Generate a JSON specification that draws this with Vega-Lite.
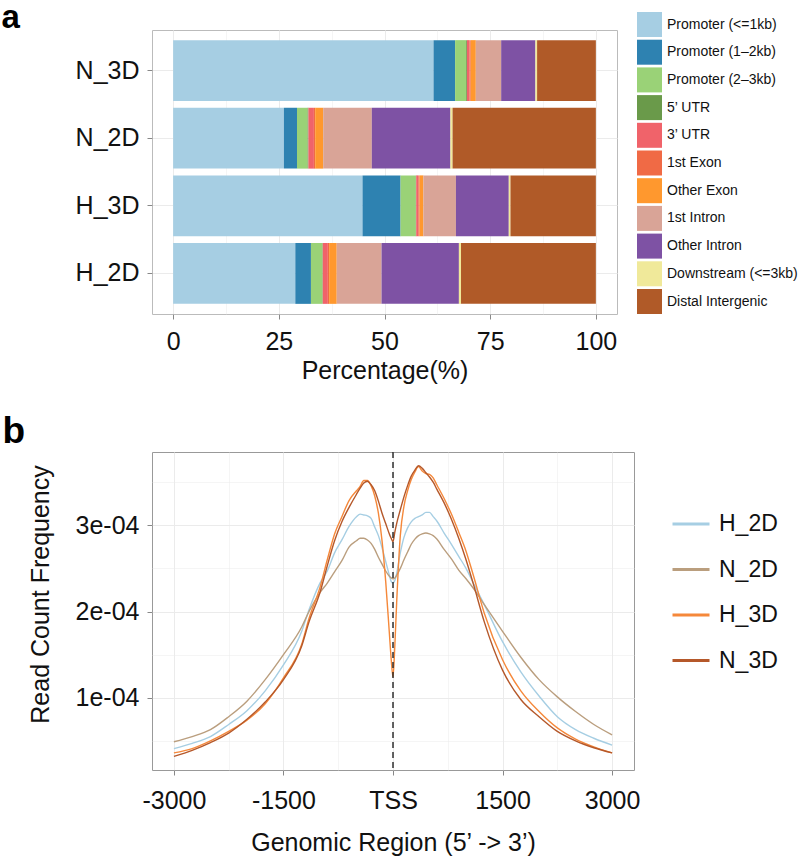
{
"$schema": "https://vega.github.io/schema/vega-lite/v6.json",
"background": "white",
"padding": {"left": 0, "top": 0, "right": 0, "bottom": 0},
"bounds": "flush",
"spacing": 138,
"resolve": {"scale": {"color": "independent"}, "legend": {"color": "independent"}},
"config": {
  "font": "Liberation Sans",
  "axis": {"labelFont": "Liberation Sans", "titleFont": "Liberation Sans", "labelColor": "#111111", "titleColor": "#111111", "titleFontWeight": "normal", "labelFontSize": 25, "titleFontSize": 25, "domain": false, "tickColor": "#888888", "tickSize": 5, "gridColor": "#EBEBEB", "labelPadding": 8},
  "legend": {"labelFont": "Liberation Sans", "labelColor": "#111111", "padding": 0}
},
"vconcat": [
{
  "width": 465, "height": 284,
  "view": {"stroke": "#BBBBBB"},
  "data": {"values": [
    {"sample":"N_3D","feature":"Promoter (<=1kb)","pct":61.6},
    {"sample":"N_3D","feature":"Promoter (1–2kb)","pct":5.1},
    {"sample":"N_3D","feature":"Promoter (2–3kb)","pct":2.6},
    {"sample":"N_3D","feature":"5’ UTR","pct":0.2},
    {"sample":"N_3D","feature":"3’ UTR","pct":0.6},
    {"sample":"N_3D","feature":"1st Exon","pct":0.3},
    {"sample":"N_3D","feature":"Other Exon","pct":1.2},
    {"sample":"N_3D","feature":"1st Intron","pct":6.0},
    {"sample":"N_3D","feature":"Other Intron","pct":8.1},
    {"sample":"N_3D","feature":"Downstream (<=3kb)","pct":0.4},
    {"sample":"N_3D","feature":"Distal Intergenic","pct":13.9},
    {"sample":"N_2D","feature":"Promoter (<=1kb)","pct":26.2},
    {"sample":"N_2D","feature":"Promoter (1–2kb)","pct":3.1},
    {"sample":"N_2D","feature":"Promoter (2–3kb)","pct":2.5},
    {"sample":"N_2D","feature":"5’ UTR","pct":0.2},
    {"sample":"N_2D","feature":"3’ UTR","pct":1.3},
    {"sample":"N_2D","feature":"1st Exon","pct":0.3},
    {"sample":"N_2D","feature":"Other Exon","pct":1.9},
    {"sample":"N_2D","feature":"1st Intron","pct":11.5},
    {"sample":"N_2D","feature":"Other Intron","pct":18.6},
    {"sample":"N_2D","feature":"Downstream (<=3kb)","pct":0.5},
    {"sample":"N_2D","feature":"Distal Intergenic","pct":33.9},
    {"sample":"H_3D","feature":"Promoter (<=1kb)","pct":44.8},
    {"sample":"H_3D","feature":"Promoter (1–2kb)","pct":9.0},
    {"sample":"H_3D","feature":"Promoter (2–3kb)","pct":3.6},
    {"sample":"H_3D","feature":"5’ UTR","pct":0.1},
    {"sample":"H_3D","feature":"3’ UTR","pct":0.5},
    {"sample":"H_3D","feature":"1st Exon","pct":0.3},
    {"sample":"H_3D","feature":"Other Exon","pct":0.9},
    {"sample":"H_3D","feature":"1st Intron","pct":7.7},
    {"sample":"H_3D","feature":"Other Intron","pct":12.5},
    {"sample":"H_3D","feature":"Downstream (<=3kb)","pct":0.4},
    {"sample":"H_3D","feature":"Distal Intergenic","pct":20.2},
    {"sample":"H_2D","feature":"Promoter (<=1kb)","pct":28.9},
    {"sample":"H_2D","feature":"Promoter (1–2kb)","pct":3.7},
    {"sample":"H_2D","feature":"Promoter (2–3kb)","pct":2.7},
    {"sample":"H_2D","feature":"5’ UTR","pct":0.1},
    {"sample":"H_2D","feature":"3’ UTR","pct":1.2},
    {"sample":"H_2D","feature":"1st Exon","pct":0.3},
    {"sample":"H_2D","feature":"Other Exon","pct":1.8},
    {"sample":"H_2D","feature":"1st Intron","pct":10.6},
    {"sample":"H_2D","feature":"Other Intron","pct":18.3},
    {"sample":"H_2D","feature":"Downstream (<=3kb)","pct":0.5},
    {"sample":"H_2D","feature":"Distal Intergenic","pct":31.9}
  ]},
  "transform": [{"calculate": "indexof(['Promoter (<=1kb)','Promoter (1–2kb)','Promoter (2–3kb)','5’ UTR','3’ UTR','1st Exon','Other Exon','1st Intron','Other Intron','Downstream (<=3kb)','Distal Intergenic'], datum.feature)", "as": "stackOrder"}],
  "mark": {"type": "bar"},
  "encoding": {
    "y": {"field": "sample", "type": "nominal", "sort": ["N_3D","N_2D","H_3D","H_2D"],
          "scale": {"paddingInner": 0.1, "paddingOuter": 0.15},
          "axis": {"title": "a", "titleAngle": 0, "titleX": -151, "titleY": -3, "titleAlign": "left", "titleBaseline": "alphabetic",
                   "titleFontSize": 33, "titleFontWeight": "bold", "titleColor": "#000000",
                   "bandPosition": 0.5, "grid": true, "gridWidth": 1}},
    "x": {"field": "pct", "type": "quantitative", "stack": "zero",
          "scale": {"domain": [-5, 105], "nice": false, "zero": false},
          "axis": {"title": "Percentage(%)", "values": [0,12.5,25,37.5,50,62.5,75,87.5,100],
                   "labelExpr": "datum.value % 25 === 0 ? datum.label : ''",
                   "tickOpacity": {"condition": {"test": "datum.value % 25 !== 0", "value": 0}, "value": 1},
                   "gridWidth": {"condition": {"test": "datum.value % 25 !== 0", "value": 0.5}, "value": 1},
                   "labelPadding": 10, "titlePadding": 4}},
    "color": {"field": "feature", "type": "nominal",
              "scale": {"domain": ["Promoter (<=1kb)","Promoter (1–2kb)","Promoter (2–3kb)","5’ UTR","3’ UTR","1st Exon","Other Exon","1st Intron","Other Intron","Downstream (<=3kb)","Distal Intergenic"],
                        "range": ["#A6CEE3","#2E82B1","#9AD277","#6A9A4A","#F0636A","#F06A45","#FF982E","#D9A497","#7E52A4","#F0E99A","#B05A28"]},
              "legend": {"title": null, "orient": "none", "legendX": 485, "legendY": -18, "symbolType": "square", "symbolSize": 625, "symbolStrokeWidth": 0, "symbolOpacity": 1, "labelFontSize": 14, "rowPadding": 2.7, "labelOffset": 5}},
    "order": {"field": "stackOrder", "type": "quantitative"}
  }
},
{
  "width": 482, "height": 318,
  "view": {"stroke": "#999999"},
  "resolve": {"axis": {"x": "independent"}},
  "layer": [
  {
    "data": {"values": [
{"sample":"H_2D","pos":-3000,"freq":0.41e-4},{"sample":"H_2D","pos":-2750,"freq":0.47e-4},{"sample":"H_2D","pos":-2500,"freq":0.55e-4},{"sample":"H_2D","pos":-2250,"freq":0.69e-4},{"sample":"H_2D","pos":-2000,"freq":0.85e-4},{"sample":"H_2D","pos":-1750,"freq":1.08e-4},{"sample":"H_2D","pos":-1500,"freq":1.38e-4},{"sample":"H_2D","pos":-1250,"freq":1.77e-4},{"sample":"H_2D","pos":-1150,"freq":2.02e-4},{"sample":"H_2D","pos":-1000,"freq":2.33e-4},{"sample":"H_2D","pos":-900,"freq":2.47e-4},{"sample":"H_2D","pos":-800,"freq":2.68e-4},{"sample":"H_2D","pos":-700,"freq":2.83e-4},{"sample":"H_2D","pos":-600,"freq":2.99e-4},{"sample":"H_2D","pos":-500,"freq":3.10e-4},{"sample":"H_2D","pos":-450,"freq":3.13e-4},{"sample":"H_2D","pos":-400,"freq":3.12e-4},{"sample":"H_2D","pos":-350,"freq":3.11e-4},{"sample":"H_2D","pos":-300,"freq":3.08e-4},{"sample":"H_2D","pos":-250,"freq":2.98e-4},{"sample":"H_2D","pos":-200,"freq":2.88e-4},{"sample":"H_2D","pos":-150,"freq":2.74e-4},{"sample":"H_2D","pos":-100,"freq":2.58e-4},{"sample":"H_2D","pos":-50,"freq":2.42e-4},{"sample":"H_2D","pos":-25,"freq":2.35e-4},{"sample":"H_2D","pos":0,"freq":2.33e-4},{"sample":"H_2D","pos":25,"freq":2.36e-4},{"sample":"H_2D","pos":50,"freq":2.44e-4},{"sample":"H_2D","pos":100,"freq":2.68e-4},{"sample":"H_2D","pos":150,"freq":2.86e-4},{"sample":"H_2D","pos":200,"freq":2.97e-4},{"sample":"H_2D","pos":250,"freq":3.04e-4},{"sample":"H_2D","pos":300,"freq":3.08e-4},{"sample":"H_2D","pos":350,"freq":3.10e-4},{"sample":"H_2D","pos":400,"freq":3.12e-4},{"sample":"H_2D","pos":450,"freq":3.15e-4},{"sample":"H_2D","pos":500,"freq":3.15e-4},{"sample":"H_2D","pos":550,"freq":3.10e-4},{"sample":"H_2D","pos":600,"freq":3.05e-4},{"sample":"H_2D","pos":700,"freq":2.91e-4},{"sample":"H_2D","pos":800,"freq":2.78e-4},{"sample":"H_2D","pos":900,"freq":2.64e-4},{"sample":"H_2D","pos":1000,"freq":2.50e-4},{"sample":"H_2D","pos":1100,"freq":2.33e-4},{"sample":"H_2D","pos":1250,"freq":2.08e-4},{"sample":"H_2D","pos":1500,"freq":1.65e-4},{"sample":"H_2D","pos":1750,"freq":1.30e-4},{"sample":"H_2D","pos":2000,"freq":1.02e-4},{"sample":"H_2D","pos":2250,"freq":0.78e-4},{"sample":"H_2D","pos":2500,"freq":0.63e-4},{"sample":"H_2D","pos":2750,"freq":0.53e-4},{"sample":"H_2D","pos":3000,"freq":0.45e-4},
{"sample":"N_2D","pos":-3000,"freq":0.49e-4},{"sample":"N_2D","pos":-2750,"freq":0.55e-4},{"sample":"N_2D","pos":-2500,"freq":0.63e-4},{"sample":"N_2D","pos":-2250,"freq":0.78e-4},{"sample":"N_2D","pos":-2000,"freq":0.96e-4},{"sample":"N_2D","pos":-1750,"freq":1.21e-4},{"sample":"N_2D","pos":-1500,"freq":1.50e-4},{"sample":"N_2D","pos":-1250,"freq":1.82e-4},{"sample":"N_2D","pos":-1150,"freq":2.00e-4},{"sample":"N_2D","pos":-1000,"freq":2.22e-4},{"sample":"N_2D","pos":-900,"freq":2.33e-4},{"sample":"N_2D","pos":-800,"freq":2.46e-4},{"sample":"N_2D","pos":-700,"freq":2.59e-4},{"sample":"N_2D","pos":-600,"freq":2.75e-4},{"sample":"N_2D","pos":-500,"freq":2.82e-4},{"sample":"N_2D","pos":-450,"freq":2.85e-4},{"sample":"N_2D","pos":-400,"freq":2.85e-4},{"sample":"N_2D","pos":-350,"freq":2.83e-4},{"sample":"N_2D","pos":-300,"freq":2.79e-4},{"sample":"N_2D","pos":-250,"freq":2.72e-4},{"sample":"N_2D","pos":-200,"freq":2.63e-4},{"sample":"N_2D","pos":-150,"freq":2.55e-4},{"sample":"N_2D","pos":-100,"freq":2.47e-4},{"sample":"N_2D","pos":-50,"freq":2.41e-4},{"sample":"N_2D","pos":-25,"freq":2.39e-4},{"sample":"N_2D","pos":0,"freq":2.38e-4},{"sample":"N_2D","pos":25,"freq":2.39e-4},{"sample":"N_2D","pos":50,"freq":2.42e-4},{"sample":"N_2D","pos":100,"freq":2.50e-4},{"sample":"N_2D","pos":150,"freq":2.60e-4},{"sample":"N_2D","pos":200,"freq":2.69e-4},{"sample":"N_2D","pos":250,"freq":2.78e-4},{"sample":"N_2D","pos":300,"freq":2.84e-4},{"sample":"N_2D","pos":350,"freq":2.88e-4},{"sample":"N_2D","pos":400,"freq":2.90e-4},{"sample":"N_2D","pos":450,"freq":2.91e-4},{"sample":"N_2D","pos":500,"freq":2.90e-4},{"sample":"N_2D","pos":550,"freq":2.88e-4},{"sample":"N_2D","pos":600,"freq":2.84e-4},{"sample":"N_2D","pos":700,"freq":2.72e-4},{"sample":"N_2D","pos":800,"freq":2.61e-4},{"sample":"N_2D","pos":900,"freq":2.48e-4},{"sample":"N_2D","pos":1000,"freq":2.38e-4},{"sample":"N_2D","pos":1100,"freq":2.27e-4},{"sample":"N_2D","pos":1250,"freq":2.08e-4},{"sample":"N_2D","pos":1500,"freq":1.77e-4},{"sample":"N_2D","pos":1750,"freq":1.47e-4},{"sample":"N_2D","pos":2000,"freq":1.21e-4},{"sample":"N_2D","pos":2250,"freq":1.01e-4},{"sample":"N_2D","pos":2500,"freq":0.84e-4},{"sample":"N_2D","pos":2750,"freq":0.69e-4},{"sample":"N_2D","pos":3000,"freq":0.57e-4},
{"sample":"H_3D","pos":-3000,"freq":0.36e-4},{"sample":"H_3D","pos":-2750,"freq":0.41e-4},{"sample":"H_3D","pos":-2500,"freq":0.50e-4},{"sample":"H_3D","pos":-2250,"freq":0.61e-4},{"sample":"H_3D","pos":-2000,"freq":0.74e-4},{"sample":"H_3D","pos":-1750,"freq":0.93e-4},{"sample":"H_3D","pos":-1500,"freq":1.23e-4},{"sample":"H_3D","pos":-1250,"freq":1.62e-4},{"sample":"H_3D","pos":-1150,"freq":1.92e-4},{"sample":"H_3D","pos":-1000,"freq":2.28e-4},{"sample":"H_3D","pos":-900,"freq":2.60e-4},{"sample":"H_3D","pos":-800,"freq":2.90e-4},{"sample":"H_3D","pos":-700,"freq":3.10e-4},{"sample":"H_3D","pos":-600,"freq":3.29e-4},{"sample":"H_3D","pos":-500,"freq":3.40e-4},{"sample":"H_3D","pos":-450,"freq":3.45e-4},{"sample":"H_3D","pos":-400,"freq":3.52e-4},{"sample":"H_3D","pos":-350,"freq":3.52e-4},{"sample":"H_3D","pos":-300,"freq":3.46e-4},{"sample":"H_3D","pos":-250,"freq":3.34e-4},{"sample":"H_3D","pos":-200,"freq":3.14e-4},{"sample":"H_3D","pos":-150,"freq":2.82e-4},{"sample":"H_3D","pos":-100,"freq":2.35e-4},{"sample":"H_3D","pos":-50,"freq":1.75e-4},{"sample":"H_3D","pos":-25,"freq":1.45e-4},{"sample":"H_3D","pos":0,"freq":1.24e-4},{"sample":"H_3D","pos":25,"freq":1.60e-4},{"sample":"H_3D","pos":50,"freq":2.10e-4},{"sample":"H_3D","pos":100,"freq":2.88e-4},{"sample":"H_3D","pos":150,"freq":3.22e-4},{"sample":"H_3D","pos":200,"freq":3.40e-4},{"sample":"H_3D","pos":250,"freq":3.53e-4},{"sample":"H_3D","pos":300,"freq":3.62e-4},{"sample":"H_3D","pos":350,"freq":3.68e-4},{"sample":"H_3D","pos":400,"freq":3.63e-4},{"sample":"H_3D","pos":450,"freq":3.60e-4},{"sample":"H_3D","pos":500,"freq":3.59e-4},{"sample":"H_3D","pos":550,"freq":3.55e-4},{"sample":"H_3D","pos":600,"freq":3.47e-4},{"sample":"H_3D","pos":700,"freq":3.31e-4},{"sample":"H_3D","pos":800,"freq":3.13e-4},{"sample":"H_3D","pos":900,"freq":2.92e-4},{"sample":"H_3D","pos":1000,"freq":2.70e-4},{"sample":"H_3D","pos":1100,"freq":2.42e-4},{"sample":"H_3D","pos":1250,"freq":1.98e-4},{"sample":"H_3D","pos":1500,"freq":1.44e-4},{"sample":"H_3D","pos":1750,"freq":1.08e-4},{"sample":"H_3D","pos":2000,"freq":0.84e-4},{"sample":"H_3D","pos":2250,"freq":0.65e-4},{"sample":"H_3D","pos":2500,"freq":0.52e-4},{"sample":"H_3D","pos":2750,"freq":0.43e-4},{"sample":"H_3D","pos":3000,"freq":0.36e-4},
{"sample":"N_3D","pos":-3000,"freq":0.32e-4},{"sample":"N_3D","pos":-2750,"freq":0.39e-4},{"sample":"N_3D","pos":-2500,"freq":0.48e-4},{"sample":"N_3D","pos":-2250,"freq":0.59e-4},{"sample":"N_3D","pos":-2000,"freq":0.75e-4},{"sample":"N_3D","pos":-1750,"freq":0.95e-4},{"sample":"N_3D","pos":-1500,"freq":1.21e-4},{"sample":"N_3D","pos":-1250,"freq":1.60e-4},{"sample":"N_3D","pos":-1150,"freq":1.88e-4},{"sample":"N_3D","pos":-1000,"freq":2.22e-4},{"sample":"N_3D","pos":-900,"freq":2.53e-4},{"sample":"N_3D","pos":-800,"freq":2.82e-4},{"sample":"N_3D","pos":-700,"freq":3.04e-4},{"sample":"N_3D","pos":-600,"freq":3.21e-4},{"sample":"N_3D","pos":-500,"freq":3.36e-4},{"sample":"N_3D","pos":-450,"freq":3.43e-4},{"sample":"N_3D","pos":-400,"freq":3.49e-4},{"sample":"N_3D","pos":-350,"freq":3.51e-4},{"sample":"N_3D","pos":-300,"freq":3.47e-4},{"sample":"N_3D","pos":-250,"freq":3.40e-4},{"sample":"N_3D","pos":-200,"freq":3.28e-4},{"sample":"N_3D","pos":-150,"freq":3.14e-4},{"sample":"N_3D","pos":-100,"freq":3.02e-4},{"sample":"N_3D","pos":-50,"freq":2.90e-4},{"sample":"N_3D","pos":-25,"freq":2.85e-4},{"sample":"N_3D","pos":0,"freq":2.81e-4},{"sample":"N_3D","pos":25,"freq":2.92e-4},{"sample":"N_3D","pos":50,"freq":3.02e-4},{"sample":"N_3D","pos":100,"freq":3.18e-4},{"sample":"N_3D","pos":150,"freq":3.33e-4},{"sample":"N_3D","pos":200,"freq":3.46e-4},{"sample":"N_3D","pos":250,"freq":3.57e-4},{"sample":"N_3D","pos":300,"freq":3.64e-4},{"sample":"N_3D","pos":350,"freq":3.69e-4},{"sample":"N_3D","pos":400,"freq":3.66e-4},{"sample":"N_3D","pos":450,"freq":3.61e-4},{"sample":"N_3D","pos":500,"freq":3.56e-4},{"sample":"N_3D","pos":550,"freq":3.50e-4},{"sample":"N_3D","pos":600,"freq":3.42e-4},{"sample":"N_3D","pos":700,"freq":3.26e-4},{"sample":"N_3D","pos":800,"freq":3.07e-4},{"sample":"N_3D","pos":900,"freq":2.85e-4},{"sample":"N_3D","pos":1000,"freq":2.60e-4},{"sample":"N_3D","pos":1100,"freq":2.32e-4},{"sample":"N_3D","pos":1250,"freq":1.88e-4},{"sample":"N_3D","pos":1500,"freq":1.32e-4},{"sample":"N_3D","pos":1750,"freq":0.98e-4},{"sample":"N_3D","pos":2000,"freq":0.78e-4},{"sample":"N_3D","pos":2250,"freq":0.61e-4},{"sample":"N_3D","pos":2500,"freq":0.50e-4},{"sample":"N_3D","pos":2750,"freq":0.42e-4},{"sample":"N_3D","pos":3000,"freq":0.36e-4}
    ]},
    "mark": {"type": "line", "strokeWidth": 1.4, "interpolate": "monotone"},
    "encoding": {
      "x": {"field": "pos", "type": "quantitative",
            "scale": {"domain": [-3300, 3300], "nice": false, "zero": false},
            "axis": {"title": "Genomic Region (5’ -> 3’)", "values": [-3000,-2250,-1500,-750,0,750,1500,2250,3000],
                     "labelExpr": "datum.value === 0 ? 'TSS' : (datum.value % 1500 === 0 ? '' + datum.value : '')",
                     "tickOpacity": {"condition": {"test": "datum.value % 1500 !== 0", "value": 0}, "value": 1},
                     "gridWidth": {"condition": {"test": "datum.value % 1500 !== 0", "value": 0.5}, "value": 1},
                     "labelPadding": 13, "titlePadding": 17}},
      "y": {"field": "freq", "type": "quantitative",
            "scale": {"domain": [0.162e-4, 3.85e-4], "nice": false, "zero": false},
            "axis": {"title": "Read Count Frequency", "values": [0.5e-4, 1e-4, 1.5e-4, 2e-4, 2.5e-4, 3e-4, 3.5e-4],
                     "labelExpr": "round(datum.value * 20000) % 2 === 0 ? round(datum.value * 10000) + 'e-04' : ''",
                     "tickOpacity": {"condition": {"test": "round(datum.value * 20000) % 2 !== 0", "value": 0}, "value": 1},
                     "gridWidth": {"condition": {"test": "round(datum.value * 20000) % 2 !== 0", "value": 0.5}, "value": 1},
                     "titlePadding": 22, "titleY": 142}},
      "color": {"field": "sample", "type": "nominal",
                "scale": {"domain": ["H_2D","N_2D","H_3D","N_3D"], "range": ["#A6CEE3","#BA9E7E","#F5883A","#B5582A"]},
                "legend": {"title": null, "orient": "none", "legendX": 519, "legendY": 52, "symbolType": "stroke", "symbolSize": 1369, "symbolStrokeWidth": 3, "labelFontSize": 23, "rowPadding": 13.5, "labelOffset": 8}}
    }
  },
  {
    "data": {"values": [{"tss": 0}]},
    "mark": {"type": "rule", "strokeDash": [6, 4], "color": "#222222", "strokeWidth": 1.4},
    "encoding": {"x": {"field": "tss", "type": "quantitative",
                       "axis": {"orient": "top", "title": "b", "labels": false, "ticks": false, "grid": false, "domain": false,
                                "titleAngle": 0, "titleX": -150, "titleY": -10, "titleAlign": "left", "titleBaseline": "alphabetic",
                                "titleFontSize": 37, "titleFontWeight": "bold", "titleColor": "#000000"}}}
  }
  ]
}
]
}
